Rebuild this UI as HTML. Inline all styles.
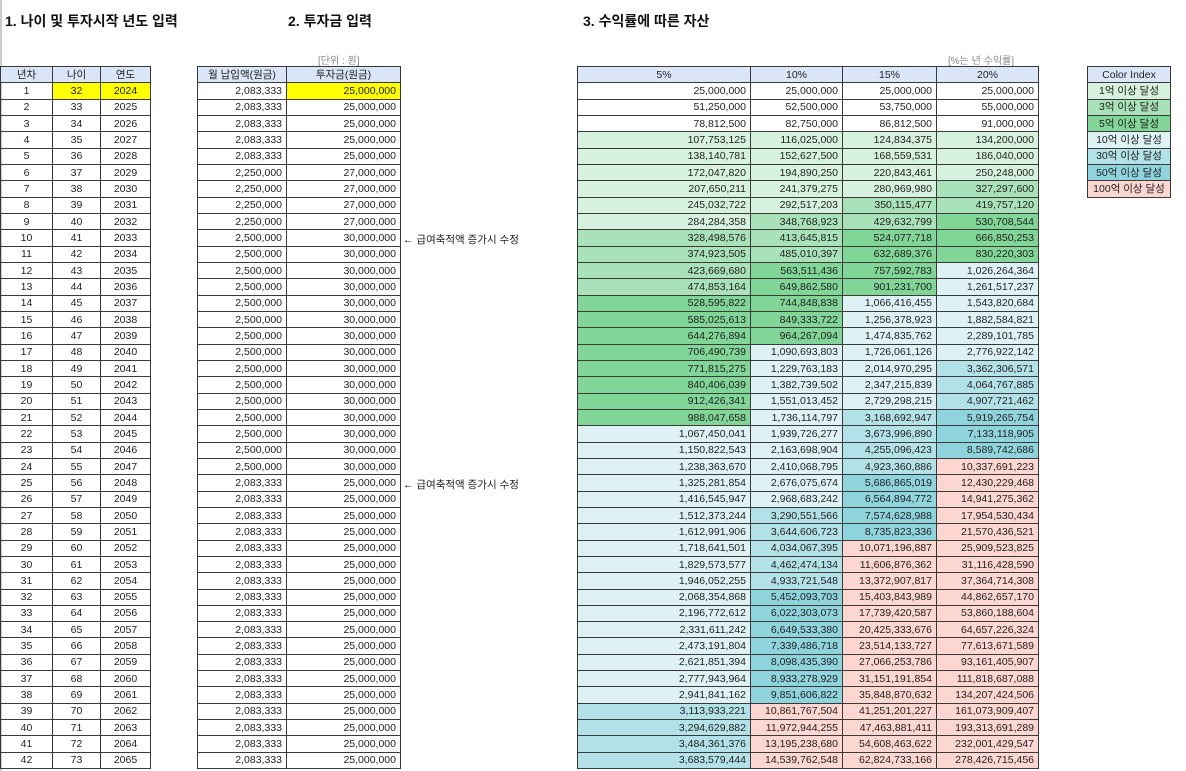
<!DOCTYPE html>
<html><head><meta charset="utf-8">
<style>
body{margin:0;width:1186px;height:771px;background:#fff;position:relative;overflow:hidden;font-family:"Liberation Sans","Noto Sans CJK KR",sans-serif;color:#222}
.t{position:absolute;font-weight:bold;font-size:14px;top:11px;color:#111}
.n{position:absolute;font-size:10px;color:#888;top:52px}
table{position:absolute;top:66px;border-collapse:collapse;table-layout:fixed;font-size:10.5px}
td{border:1px solid #3a3a3a;height:15.34px;padding:0 4px;line-height:14px;white-space:nowrap;overflow:hidden}
td.c{text-align:center}td.r{text-align:right}
tr.h td{background:#dae6f8;text-align:center}
.y{background:#ffff00}
.a1{background:#d6f1dd}.a3{background:#a9e2b8}.a5{background:#80d597}
.b1{background:#def2f5}.b3{background:#b3e1e8}.b5{background:#8fd4dd}.c1{background:#fcd6d0}
.arr{position:absolute;left:403px;font-size:10.5px}
</style></head><body>
<div style="position:absolute;left:0;top:0;width:2px;height:771px;background:#ccc"></div>
<div class="t" style="left:5px">1. 나이 및 투자시작 년도 입력</div>
<div class="t" style="left:288px">2. 투자금 입력</div>
<div class="t" style="left:583px">3. 수익률에 따른 자산</div>
<div class="n" style="left:318px">[단위 : 원]</div>
<div class="n" style="left:948px">[%는 년 수익률]</div>
<table id="t1" style="left:0;width:150px"><colgroup><col style="width:52px"><col style="width:48px"><col style="width:50px"></colgroup></table>
<table id="t2" style="left:197px;width:203px"><colgroup><col style="width:89px"><col style="width:114px"></colgroup></table>
<table id="t3" style="left:577px;width:461px"><colgroup><col style="width:173px"><col style="width:92px"><col style="width:94px"><col style="width:102px"></colgroup></table>
<table id="t4" style="left:1087px;width:84px"><tr class="h"><td class="c">Color Index</td></tr>
<tr><td class="c a1">1억 이상 달성</td></tr><tr><td class="c a3">3억 이상 달성</td></tr><tr><td class="c a5">5억 이상 달성</td></tr><tr><td class="c b1">10억 이상 달성</td></tr><tr><td class="c b3">30억 이상 달성</td></tr><tr><td class="c b5">50억 이상 달성</td></tr><tr><td class="c c1">100억 이상 달성</td></tr></table>
<div class="arr" style="top:232px">← 급여축적액 증가시 수정</div>
<div class="arr" style="top:477px">← 급여축적액 증가시 수정</div>
<script>
var V=`25,000,000|25,000,000|25,000,000|25,000,000
51,250,000|52,500,000|53,750,000|55,000,000
78,812,500|82,750,000|86,812,500|91,000,000
107,753,125|116,025,000|124,834,375|134,200,000
138,140,781|152,627,500|168,559,531|186,040,000
172,047,820|194,890,250|220,843,461|250,248,000
207,650,211|241,379,275|280,969,980|327,297,600
245,032,722|292,517,203|350,115,477|419,757,120
284,284,358|348,768,923|429,632,799|530,708,544
328,498,576|413,645,815|524,077,718|666,850,253
374,923,505|485,010,397|632,689,376|830,220,303
423,669,680|563,511,436|757,592,783|1,026,264,364
474,853,164|649,862,580|901,231,700|1,261,517,237
528,595,822|744,848,838|1,066,416,455|1,543,820,684
585,025,613|849,333,722|1,256,378,923|1,882,584,821
644,276,894|964,267,094|1,474,835,762|2,289,101,785
706,490,739|1,090,693,803|1,726,061,126|2,776,922,142
771,815,275|1,229,763,183|2,014,970,295|3,362,306,571
840,406,039|1,382,739,502|2,347,215,839|4,064,767,885
912,426,341|1,551,013,452|2,729,298,215|4,907,721,462
988,047,658|1,736,114,797|3,168,692,947|5,919,265,754
1,067,450,041|1,939,726,277|3,673,996,890|7,133,118,905
1,150,822,543|2,163,698,904|4,255,096,423|8,589,742,686
1,238,363,670|2,410,068,795|4,923,360,886|10,337,691,223
1,325,281,854|2,676,075,674|5,686,865,019|12,430,229,468
1,416,545,947|2,968,683,242|6,564,894,772|14,941,275,362
1,512,373,244|3,290,551,566|7,574,628,988|17,954,530,434
1,612,991,906|3,644,606,723|8,735,823,336|21,570,436,521
1,718,641,501|4,034,067,395|10,071,196,887|25,909,523,825
1,829,573,577|4,462,474,134|11,606,876,362|31,116,428,590
1,946,052,255|4,933,721,548|13,372,907,817|37,364,714,308
2,068,354,868|5,452,093,703|15,403,843,989|44,862,657,170
2,196,772,612|6,022,303,073|17,739,420,587|53,860,188,604
2,331,611,242|6,649,533,380|20,425,333,676|64,657,226,324
2,473,191,804|7,339,486,718|23,514,133,727|77,613,671,589
2,621,851,394|8,098,435,390|27,066,253,786|93,161,405,907
2,777,943,964|8,933,278,929|31,151,191,854|111,818,687,088
2,941,841,162|9,851,606,822|35,848,870,632|134,207,424,506
3,113,933,221|10,861,767,504|41,251,201,227|161,073,909,407
3,294,629,882|11,972,944,255|47,463,881,411|193,313,691,289
3,484,361,376|13,195,238,680|54,608,463,622|232,001,429,547
3,683,579,444|14,539,762,548|62,824,733,166|278,426,715,456`.split("\n");
function cls(s){var v=+s.replace(/,/g,'');return v>=1e10?'c1':v>=5e9?'b5':v>=3e9?'b3':v>=1e9?'b1':v>=5e8?'a5':v>=3e8?'a3':v>=1e8?'a1':'';}
var h1='<tr class="h"><td>년차</td><td>나이</td><td>연도</td></tr>',h2='<tr class="h"><td>월 납입액(원금)</td><td>투자금(원금)</td></tr>',h3='<tr class="h"><td>5%</td><td>10%</td><td>15%</td><td>20%</td></tr>';
for(var i=1;i<=42;i++){
 var y=i==1?' y':'';
 h1+='<tr><td class="c">'+i+'</td><td class="c'+y+'">'+(31+i)+'</td><td class="c'+y+'">'+(2023+i)+'</td></tr>';
 var m,p;if(i<=5||i>=25){m='2,083,333';p='25,000,000'}else if(i<=9){m='2,250,000';p='27,000,000'}else{m='2,500,000';p='30,000,000'}
 h2+='<tr><td class="r">'+m+'</td><td class="r'+y+'">'+p+'</td></tr>';
 var r=V[i-1].split('|');h3+='<tr>'+r.map(function(s){return '<td class="r '+cls(s)+'">'+s+'</td>'}).join('')+'</tr>';
}
document.getElementById('t1').insertAdjacentHTML('beforeend',h1);
document.getElementById('t2').insertAdjacentHTML('beforeend',h2);
document.getElementById('t3').insertAdjacentHTML('beforeend',h3);
</script>
</body></html>
